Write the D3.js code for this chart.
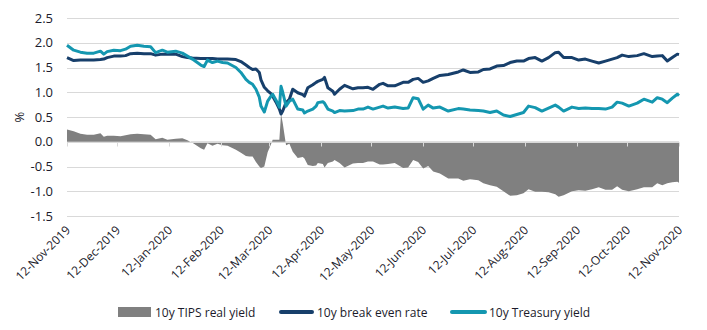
<!DOCTYPE html>
<html lang="en">
<head>
<meta charset="utf-8">
<script src="https://d3js.org/d3.v7.min.js"></script>
<style>
  body { margin: 0; background: #fff; }
  svg text { font-family: "Open Sans", "Liberation Sans", sans-serif; fill: #1b1b2b; }
</style>
</head>
<body>
<script>
var width = 707, height = 330;

// observation dates
var dates = [
  "2019-11-12","2019-11-16","2019-11-20","2019-11-24","2019-11-28","2019-12-02","2019-12-04","2019-12-06",
  "2019-12-10","2019-12-14","2019-12-17","2019-12-20","2019-12-24","2019-12-28","2020-01-01","2020-01-04",
  "2020-01-08","2020-01-11","2020-01-16","2020-01-20","2020-01-23","2020-01-26","2020-01-31","2020-02-02",
  "2020-02-04","2020-02-07","2020-02-10","2020-02-13","2020-02-16","2020-02-21","2020-02-24","2020-02-27",
  "2020-02-29","2020-03-02","2020-03-04","2020-03-06","2020-03-07","2020-03-09","2020-03-11","2020-03-13",
  "2020-03-14","2020-03-16","2020-03-18","2020-03-19","2020-03-20","2020-03-22","2020-03-24","2020-03-26",
  "2020-03-29","2020-04-01","2020-04-02","2020-04-04","2020-04-07","2020-04-09","2020-04-10","2020-04-13",
  "2020-04-14","2020-04-16","2020-04-19","2020-04-20","2020-04-23","2020-04-26","2020-05-01","2020-05-04",
  "2020-05-07","2020-05-10","2020-05-13","2020-05-17","2020-05-19","2020-05-22","2020-05-26","2020-05-31",
  "2020-06-03","2020-06-06","2020-06-09","2020-06-12","2020-06-15","2020-06-18","2020-06-22","2020-06-27",
  "2020-07-03","2020-07-06","2020-07-10","2020-07-15","2020-07-18","2020-07-22","2020-07-26","2020-07-30",
  "2020-08-03","2020-08-07","2020-08-11","2020-08-14","2020-08-18","2020-08-22","2020-08-26","2020-08-30",
  "2020-09-01","2020-09-04","2020-09-09","2020-09-13","2020-09-17","2020-09-21","2020-09-25","2020-09-29",
  "2020-10-03","2020-10-06","2020-10-09","2020-10-13","2020-10-18","2020-10-22","2020-10-27","2020-10-30",
  "2020-11-02","2020-11-05","2020-11-08","2020-11-11","2020-11-12"
];

// 10y break even rate
var breakEven = [
  1.70,1.64,1.65,1.65,1.65,1.66,1.67,1.70,1.73,1.73,1.74,1.78,1.79,1.78,1.78,1.75,
  1.77,1.77,1.77,1.72,1.70,1.69,1.68,1.68,1.68,1.68,1.67,1.67,1.67,1.66,1.62,1.55,
  1.50,1.46,1.47,1.40,1.25,1.10,1.03,0.97,0.92,0.80,0.66,0.56,0.62,0.79,0.86,1.06,
  0.99,0.95,0.92,1.09,1.15,1.20,1.22,1.26,1.30,1.09,1.02,0.96,1.06,1.14,1.07,1.09,
  1.09,1.10,1.06,1.16,1.18,1.13,1.13,1.20,1.20,1.26,1.28,1.20,1.23,1.28,1.34,1.36,
  1.41,1.45,1.40,1.41,1.46,1.47,1.53,1.54,1.60,1.63,1.63,1.68,1.70,1.63,1.70,1.80,
  1.81,1.70,1.70,1.65,1.67,1.63,1.59,1.63,1.67,1.70,1.75,1.72,1.74,1.78,1.72,1.73,
  1.74,1.63,1.70,1.77,1.76
];

// 10y Treasury yield
var treasury = [
  1.95,1.85,1.81,1.79,1.79,1.83,1.77,1.82,1.85,1.84,1.87,1.93,1.95,1.93,1.92,1.80,
  1.85,1.81,1.83,1.79,1.73,1.67,1.55,1.52,1.65,1.60,1.63,1.60,1.59,1.50,1.40,1.26,
  1.20,1.16,1.06,0.90,0.72,0.60,0.82,0.92,0.96,0.84,0.70,1.12,1.00,0.72,0.82,0.86,
  0.66,0.64,0.58,0.62,0.66,0.72,0.79,0.81,0.78,0.66,0.62,0.59,0.63,0.62,0.63,0.66,
  0.66,0.70,0.66,0.70,0.72,0.68,0.70,0.67,0.68,0.89,0.87,0.66,0.74,0.68,0.70,0.62,
  0.67,0.66,0.64,0.63,0.62,0.59,0.62,0.54,0.51,0.55,0.59,0.72,0.69,0.62,0.68,0.74,
  0.70,0.62,0.70,0.67,0.68,0.67,0.67,0.66,0.70,0.80,0.78,0.72,0.78,0.86,0.80,0.89,
  0.86,0.79,0.88,0.96,0.93
];

// 10y TIPS real yield
var tips = [
  0.25,0.21,0.16,0.14,0.14,0.17,0.10,0.12,0.12,0.11,0.13,0.15,0.16,0.15,0.14,0.05,
  0.08,0.04,0.06,0.07,0.03,-0.02,-0.13,-0.16,-0.03,-0.08,-0.04,-0.07,-0.08,-0.16,-0.22,-0.29,
  -0.30,-0.30,-0.41,-0.50,-0.53,-0.50,-0.21,-0.05,0.04,0.04,0.04,0.56,0.38,-0.07,-0.04,-0.20,
  -0.33,-0.31,-0.34,-0.47,-0.49,-0.48,-0.43,-0.45,-0.52,-0.43,-0.40,-0.37,-0.43,-0.52,-0.44,-0.43,
  -0.43,-0.40,-0.40,-0.46,-0.46,-0.45,-0.43,-0.53,-0.52,-0.37,-0.41,-0.54,-0.49,-0.60,-0.64,-0.74,
  -0.74,-0.79,-0.76,-0.78,-0.84,-0.88,-0.91,-1.00,-1.09,-1.08,-1.04,-0.96,-1.01,-1.01,-1.02,-1.06,
  -1.11,-1.08,-1.00,-0.98,-0.99,-0.96,-0.92,-0.97,-0.97,-0.90,-0.97,-1.00,-0.96,-0.92,-0.92,-0.84,
  -0.88,-0.84,-0.82,-0.81,-0.83
];

var xTicks = ["2019-11-12","2019-12-12","2020-01-12","2020-02-12","2020-03-12","2020-04-12","2020-05-12",
  "2020-06-12","2020-07-12","2020-08-12","2020-09-12","2020-10-12","2020-11-12"];
var yTicks = [-1.5, -1.0, -0.5, 0.0, 0.5, 1.0, 1.5, 2.0, 2.5];

var legendNames = ["10y TIPS real yield", "10y break even rate", "10y Treasury yield"];
var colors = { tips: "#808080", be: "#173f6b", tsy: "#1497b0" };

var parse = d3.timeParse("%Y-%m-%d");
var fmtTick = d3.timeFormat("%d-%b-%Y");

var data = dates.map(function(d, i) {
  return { date: parse(d), be: breakEven[i], tsy: treasury[i], tips: tips[i] };
});

var svg = d3.select("body").append("svg").attr("width", width).attr("height", height);

var x = d3.scaleTime().domain([parse("2019-11-12"), parse("2020-11-12")]).range([67, 679]);
var y = d3.scaleLinear().domain([-1.5, 2.5]).range([216, 18]);

// gridlines
svg.append("g").selectAll("line").data(yTicks).join("line")
  .attr("x1", 67).attr("x2", 679)
  .attr("y1", function(d) { return Math.round(y(d)) + 0.5; })
  .attr("y2", function(d) { return Math.round(y(d)) + 0.5; })
  .attr("stroke", "#d9d9d9").attr("stroke-width", 1);

// TIPS area
var area = d3.area()
  .x(function(d) { return x(d.date); })
  .y0(y(0))
  .y1(function(d) { return y(d.tips); });
svg.append("path").datum(data).attr("d", area).attr("fill", colors.tips);

// zero line + ticks on top of area
var zeroY = Math.round(y(0)) + 0.5;
svg.append("line").attr("x1", 67).attr("x2", 679).attr("y1", zeroY).attr("y2", zeroY)
  .attr("stroke", "#d9d9d9");
svg.append("g").selectAll("line").data(xTicks).join("line")
  .attr("x1", function(d) { return Math.round(x(parse(d))) + 0.5; })
  .attr("x2", function(d) { return Math.round(x(parse(d))) + 0.5; })
  .attr("y1", zeroY).attr("y2", zeroY + 4)
  .attr("stroke", "#d9d9d9");

// lines
function lineFor(key) {
  return d3.line().x(function(d) { return x(d.date); }).y(function(d) { return y(d[key]); });
}
svg.append("path").datum(data).attr("d", lineFor("be"))
  .attr("fill", "none").attr("stroke", colors.be).attr("stroke-width", 3).attr("stroke-linejoin", "round");
svg.append("path").datum(data).attr("d", lineFor("tsy"))
  .attr("fill", "none").attr("stroke", colors.tsy).attr("stroke-width", 3).attr("stroke-linejoin", "round");

// y labels
svg.append("g").selectAll("text").data(yTicks).join("text")
  .attr("x", 53).attr("y", function(d) { return y(d) + 4.5; })
  .attr("text-anchor", "end").style("font-size", "13px")
  .text(function(d) { return d.toFixed(1); });

svg.append("text").attr("transform", "translate(24," + y(0.5) + ") rotate(-90)")
  .attr("text-anchor", "middle").style("font-size", "13px").text("%");

// x labels
svg.append("g").selectAll("text").data(xTicks).join("text")
  .attr("transform", function(d) { return "translate(" + (x(parse(d)) + 4) + ",231) rotate(-45)"; })
  .attr("text-anchor", "end").style("font-size", "12px")
  .text(function(d) { return fmtTick(parse(d)); });

// legend
var lg = svg.append("g");
lg.append("rect").attr("x", 118).attr("y", 307).attr("width", 33).attr("height", 10).attr("fill", colors.tips);
lg.append("text").attr("x", 155).attr("y", 317).style("font-size", "12px").text(legendNames[0]);
lg.append("line").attr("x1", 281).attr("x2", 312).attr("y1", 312).attr("y2", 312)
  .attr("stroke", colors.be).attr("stroke-width", 4).attr("stroke-linecap", "round");
lg.append("text").attr("x", 317).attr("y", 317).style("font-size", "12px").text(legendNames[1]);
lg.append("line").attr("x1", 452).attr("x2", 485).attr("y1", 312).attr("y2", 312)
  .attr("stroke", colors.tsy).attr("stroke-width", 4).attr("stroke-linecap", "round");
lg.append("text").attr("x", 489).attr("y", 317).style("font-size", "12px").text(legendNames[2]);
</script>
</body>
</html>
